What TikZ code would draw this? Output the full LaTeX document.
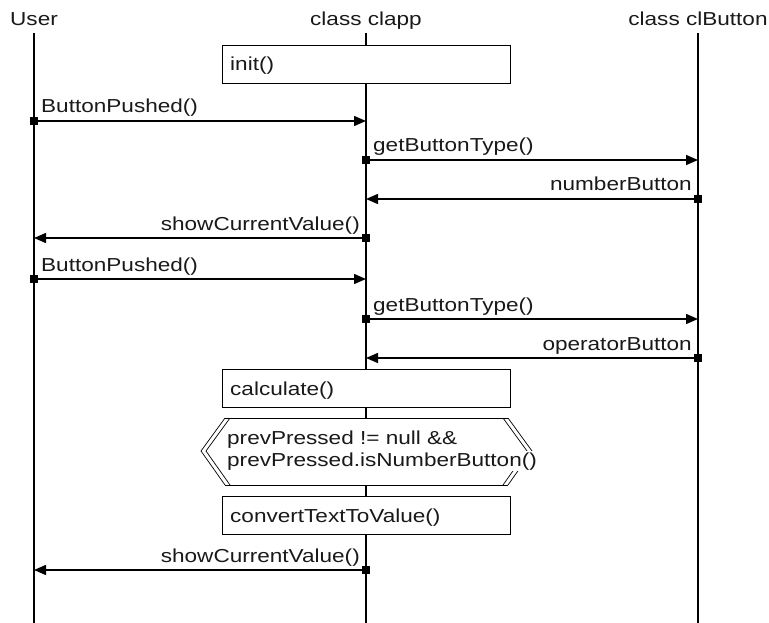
\documentclass[tikz,border=0pt]{standalone}
\usepackage{fontspec}
\setmainfont{Liberation Sans}[FakeStretch=1.2]
\usetikzlibrary{arrows.meta}
\begin{document}
\begin{tikzpicture}[x=1pt,y=-1pt,
  txt/.style={font=\fontsize{18.8}{22}\selectfont, inner sep=0pt, text=black!90},
  lifeline/.style={line width=1.8pt},
  actbox/.style={draw, line width=0.8pt, fill=white, minimum width=288pt,
    minimum height=38pt, anchor=north west, inner sep=0pt},
  msgline/.style={line width=1.5pt, -{Triangle[length=12pt,width=10pt]}},
  startmark/.style={fill=black, inner sep=0pt, minimum size=8pt},
  guard/.style={line width=0.7pt}]
\useasboundingbox (0,0) rectangle (769,623);

% lifeline heads
\node[txt, anchor=base] (hU) at (34,26) {User};
\node[txt, anchor=base] (hC) at (366,26) {class clapp};
\node[txt, anchor=base] (hB) at (698,26) {class clButton};
\coordinate (tU) at (34,33);  \coordinate (eU) at (34,623);
\coordinate (tC) at (366,33); \coordinate (eC) at (366,623);
\coordinate (tB) at (698,33); \coordinate (eB) at (698,623);
\draw[lifeline] (tU) -- (eU);
\draw[lifeline] (tC) -- (eC);
\draw[lifeline] (tB) -- (eB);

% activity boxes on class clapp
\node[actbox] (init) at (222,45) {};
\node[txt, anchor=base west] (initT) at (230,71) {init()};
\node[actbox] (calc) at (222,369) {};
\node[txt, anchor=base west] (calcT) at (230,395) {calculate()};
\node[actbox] (conv) at (222,496) {};
\node[txt, anchor=base west] (convT) at (230,522) {convertTextToValue()};

% guard condition (double-edged hexagon)
\fill[white] (201,451) -- (220,418) -- (513,418) -- (533,451) -- (513,485) -- (220,485) -- cycle;
\draw[guard] (225,418) -- (201,451) -- (225,485);
\draw[guard] (230,418) -- (206,451) -- (230,485);
\draw[guard] (508,418) -- (532,451) -- (508,485);
\draw[guard] (503,418) -- (527,451) -- (503,485);
\draw[guard] (225,418) -- (508,418);
\draw[guard] (225,485) -- (508,485);
\node[txt, anchor=base west] (g1) at (227,444) {prevPressed != null \&\&};
\node[txt, anchor=base west, fill=white, inner ysep=1pt] (g2) at (227,466) {prevPressed.isNumberButton()};

% messages
\coordinate (u1) at (34,121);  \coordinate (c1) at (366,121);
\coordinate (c2) at (366,160); \coordinate (b2) at (698,160);
\coordinate (b3) at (698,199); \coordinate (c3) at (366,199);
\coordinate (c4) at (366,238); \coordinate (u4) at (34,238);
\coordinate (u5) at (34,279);  \coordinate (c5) at (366,279);
\coordinate (c6) at (366,319); \coordinate (b6) at (698,319);
\coordinate (b7) at (698,358); \coordinate (c7) at (366,358);
\coordinate (c8) at (366,570); \coordinate (u8) at (34,570);

\draw[msgline] (u1) -- (c1);
\node[startmark] (s1) at (u1) {};
\node[txt, anchor=base west] (m1) at (41,113) {ButtonPushed()};

\draw[msgline] (c2) -- (b2);
\node[startmark] (s2) at (c2) {};
\node[txt, anchor=base west] (m2) at (373,152) {getButtonType()};

\draw[msgline] (b3) -- (c3);
\node[startmark] (s3) at (b3) {};
\node[txt, anchor=base east] (m3) at (692,191) {numberButton};

\draw[msgline] (c4) -- (u4);
\node[startmark] (s4) at (c4) {};
\node[txt, anchor=base east] (m4) at (360,230) {showCurrentValue()};

\draw[msgline] (u5) -- (c5);
\node[startmark] (s5) at (u5) {};
\node[txt, anchor=base west] (m5) at (41,271) {ButtonPushed()};

\draw[msgline] (c6) -- (b6);
\node[startmark] (s6) at (c6) {};
\node[txt, anchor=base west] (m6) at (373,311) {getButtonType()};

\draw[msgline] (b7) -- (c7);
\node[startmark] (s7) at (b7) {};
\node[txt, anchor=base east] (m7) at (692,350) {operatorButton};

\draw[msgline] (c8) -- (u8);
\node[startmark] (s8) at (c8) {};
\node[txt, anchor=base east] (m8) at (360,562) {showCurrentValue()};
\end{tikzpicture}
\end{document}
